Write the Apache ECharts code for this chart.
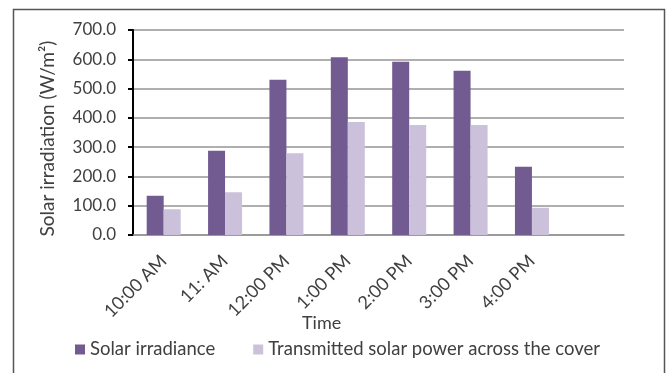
<!DOCTYPE html>
<html>
<head>
<meta charset="utf-8">
<script src="https://cdn.jsdelivr.net/npm/echarts@6/dist/echarts.min.js"></script>
<style>
html,body{margin:0;padding:0;background:#fff;}
#c{width:668px;height:373px;}
</style>
</head>
<body>
<div id="c"></div>
<script>
const categories = ['10:00 AM', '11: AM', '12:00 PM', '1:00 PM', '2:00 PM', '3:00 PM', '4:00 PM', ''];
const solarIrradiance = [134, 288, 530, 607, 592, 561, 233, null];
const transmittedPower = [88, 146, 279, 386, 376, 376, 93, null];
const yTicks = { min: 0, max: 700, interval: 100 };

const FONT = 'Lato';
const TXT = '#404040';
const chart = echarts.init(document.getElementById('c'));
chart.setOption({
  animation: false,
  textStyle: { fontFamily: FONT },
  grid: { left: 133, right: 44, top: 30, bottom: 138 },
  graphic: [
    { type: 'rect', shape: { x: 13.5, y: 9.5, width: 651, height: 420 },
      style: { fill: 'none', stroke: '#555', lineWidth: 1.5 } },
    { type: 'text', left: 302, top: 314,
      style: { text: 'Time', font: '18px ' + FONT, fill: TXT } }
  ],
  legend: {
    left: 70, top: 335, itemWidth: 10, itemHeight: 10, itemGap: 38,
    icon: 'rect',
    textStyle: { fontFamily: FONT, fontSize: 18.5, color: TXT },
    data: ['Solar irradiance', 'Transmitted solar power across the cover']
  },
  xAxis: {
    type: 'category', data: categories,
    axisLine: { lineStyle: { color: '#959595', width: 1.5 } },
    axisTick: { show: false },
    axisLabel: { rotate: 45, interval: 0, margin: 23, fontSize: 18, color: TXT, fontFamily: FONT }
  },
  yAxis: {
    type: 'value', min: yTicks.min, max: yTicks.max, interval: yTicks.interval,
    name: 'Solar irradiation (W/m²)', nameLocation: 'middle', nameGap: 76,
    nameTextStyle: { fontSize: 19, color: TXT, fontFamily: FONT, padding: [0, 12, 0, 0] },
    axisLine: { show: true, lineStyle: { color: '#000', width: 2 } },
    axisTick: { show: true, length: 5, lineStyle: { color: '#000', width: 2 } },
    axisLabel: { margin: 17, fontSize: 17, color: TXT, fontFamily: FONT,
      formatter: v => v.toFixed(1) },
    splitLine: { lineStyle: { color: '#959595', width: 1.5 } }
  },
  series: [
    { name: 'Solar irradiance', type: 'bar', data: solarIrradiance, barWidth: 17, barGap: '0%',
      itemStyle: { color: '#725B91' } },
    { name: 'Transmitted solar power across the cover', type: 'bar', data: transmittedPower, barWidth: 17,
      itemStyle: { color: '#CCC1DA' } }
  ]
});
</script>
</body>
</html>
